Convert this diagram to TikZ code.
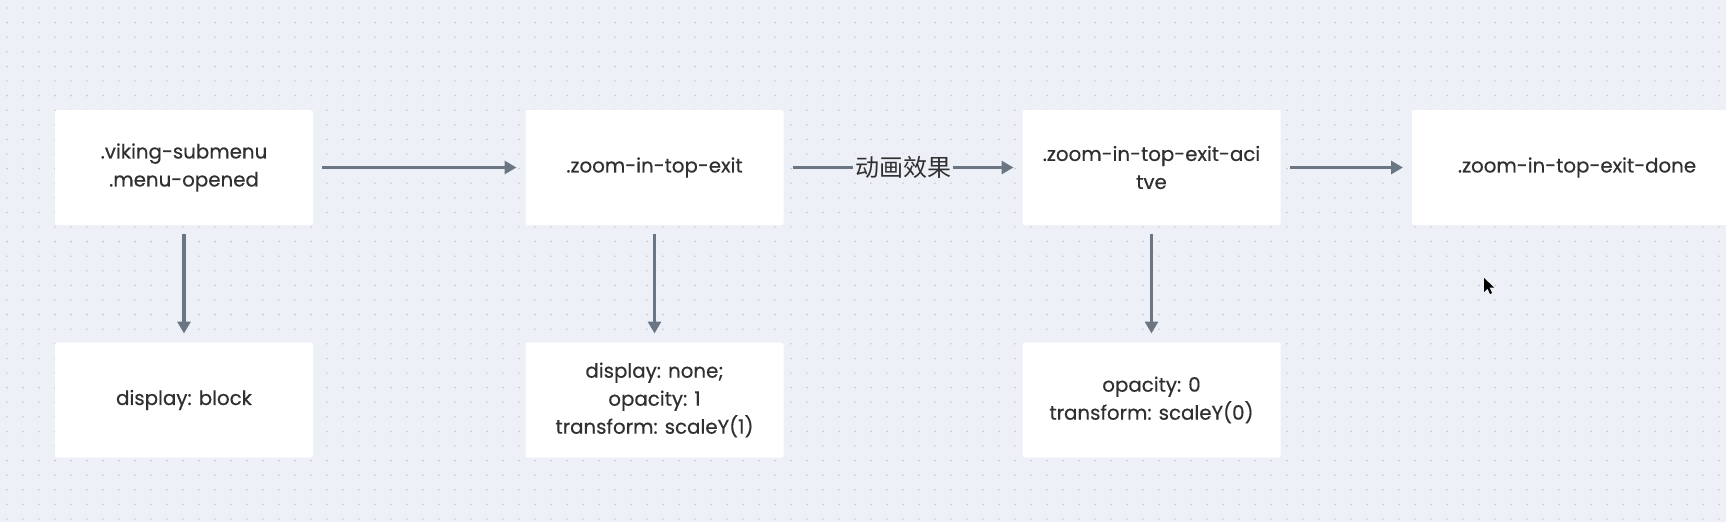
\documentclass[tikz,border=0pt]{standalone}
\usepackage{fontspec}
\setmainfont{Poppins}[FakeBold=0.4]
\newfontfamily\cjk{Noto Sans CJK SC}
\usetikzlibrary{arrows.meta}
\definecolor{bgc}{HTML}{EDF0F6}
\definecolor{dotc}{HTML}{C6CAD3}
\definecolor{arrc}{HTML}{6B7685}
\definecolor{txtc}{HTML}{303030}
\tikzset{
  box/.style={rectangle, fill=white, rounded corners=2pt, minimum width=258pt, minimum height=115pt,
    align=center, text=txtc, font=\fontsize{19.8}{28}\selectfont, outer sep=9pt, inner sep=0pt},
  arr/.style={draw=arrc, line width=3.5pt, -{Triangle[length=12pt,width=13pt]}},
}
\begin{document}
\begin{tikzpicture}[x=1pt,y=-1pt]
\useasboundingbox (0,0) rectangle (1726,522);
\fill[bgc] (0,0) rectangle (1726,522);
\foreach \i in {0,...,107} {
  \foreach \j in {0,...,35} {
    \fill[dotc] (7+16*\i, 8+14.6*\j) circle (0.9pt);
  }
}
\node[box] (b1) at (184,167.5) {.viking-submenu\\.menu-opened};
\node[box] (b2) at (654.5,167.5) {.zoom-in-top-exit};
\node[box] (b3) at (1151.5,167.5) {.zoom-in-top-exit-aci\\tve};
\node[box, minimum width=330pt] (b4) at (1577,167.5) {.zoom-in-top-exit-done};
\node[box] (b5) at (184,400) {display: block};
\node[box] (b6) at (654.5,400) {display: none;\\opacity: 1\\transform: scaleY(1)};
\node[box] (b7) at (1151.5,400) {opacity: 0\\transform: scaleY(0)};
\draw[arr] (b1) -- (b2);
\draw[arr] (b2) -- node[fill=bgc, inner sep=2pt, text=txtc, font=\cjk\fontsize{24}{26}\selectfont] (lab) {动画效果} (b3);
\draw[arr] (b3) -- (b4);
\draw[arr] (b1) -- (b5);
\draw[arr] (b2) -- (b6);
\draw[arr] (b3) -- (b7);
\fill[black] (1484,278) -- (1484,292) -- (1487.5,288.5) -- (1490,294) -- (1492,293) -- (1489.5,287.5) -- (1494,287.5) -- cycle;
\end{tikzpicture}
\end{document}
